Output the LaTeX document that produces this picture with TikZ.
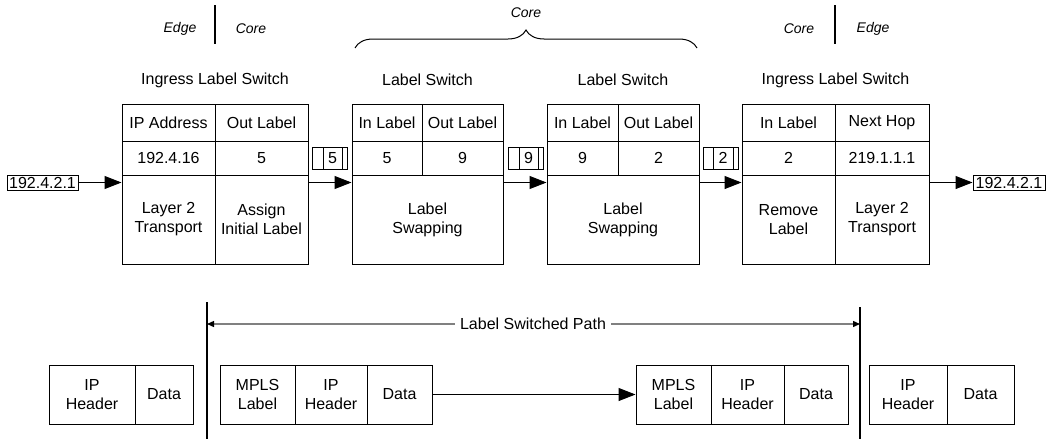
\documentclass[tikz,border=0pt]{standalone}
\usepackage{fontspec}
\setmainfont{Liberation Sans}
\usetikzlibrary{arrows.meta,decorations.pathreplacing}

\begin{document}
\begin{tikzpicture}[x=1pt,y=-1pt,cell/.style={draw,line width=1pt,inner sep=0pt,align=center,font=\fontsize{16}{19}\selectfont},tag/.style={draw,line width=1pt,inner sep=0pt,minimum height=22,font=\fontsize{16}{19}\selectfont},zone/.style={font=\fontsize{14}{16}\selectfont\itshape},title/.style={font=\fontsize{16}{19}\selectfont},flow/.style={line width=1pt,-{Triangle[length=17pt,width=13pt]}},lsp/.style={line width=1.3pt,gray,-{Triangle[length=7pt,width=6pt,black]}},divider/.style={line width=1.4pt}]
\useasboundingbox (0,0) rectangle (1051,439);
% edge / core marks
\coordinate (m1a) at (215,5);
\coordinate (m1b) at (215,44);
\coordinate (m2a) at (835,5);
\coordinate (m2b) at (835,44);
\draw[divider] (m1a) -- (m1b);
\draw[divider] (m2a) -- (m2b);
\node[zone] (e1) at (180,29) {Edge};
\node[zone] (c1) at (251,29) {Core};
\node[zone] (c2) at (799,29) {Core};
\node[zone] (e2) at (873,29) {Edge};
\coordinate (bl) at (355,48);
\coordinate (br) at (697,48);
\draw[line width=1pt,decorate,decoration={brace,amplitude=18pt}] (bl) -- (br);
\node[zone] (c3) at (526,13) {Core};
% ingress label switch
\node[title] (t1) at (215,80) {Ingress Label Switch};
\node[cell,minimum width=93,minimum height=37] (s1a) at (168.5,122.5) {IP Address};
\node[cell,minimum width=93,minimum height=37] (s1b) at (261.5,122.5) {Out Label};
\node[cell,minimum width=93,minimum height=34] (s1c) at (168.5,158) {192.4.16};
\node[cell,minimum width=93,minimum height=34] (s1d) at (261.5,158) {5};
\node[cell,minimum width=93,minimum height=89] (s1e) at (168.5,219.5) {Layer 2\\Transport};
\node[cell,minimum width=93,minimum height=89] (s1f) at (261.5,219.5) {Assign\\Initial Label};
% label switch
\node[title] (t2) at (427.5,80) {Label Switch};
\node[cell,minimum width=70,minimum height=37] (s2a) at (387,122.5) {In Label};
\node[cell,minimum width=81,minimum height=37] (s2b) at (462.5,122.5) {Out Label};
\node[cell,minimum width=70,minimum height=34] (s2c) at (387,158) {5};
\node[cell,minimum width=81,minimum height=34] (s2d) at (462.5,158) {9};
\node[cell,minimum width=151,minimum height=89] (s2e) at (427.5,219.5) {Label\\Swapping};
% label switch
\node[title] (t3) at (623,80) {Label Switch};
\node[cell,minimum width=71,minimum height=37] (s3a) at (582.5,122.5) {In Label};
\node[cell,minimum width=81,minimum height=37] (s3b) at (658.5,122.5) {Out Label};
\node[cell,minimum width=71,minimum height=34] (s3c) at (582.5,158) {9};
\node[cell,minimum width=81,minimum height=34] (s3d) at (658.5,158) {2};
\node[cell,minimum width=152,minimum height=89] (s3e) at (623,219.5) {Label\\Swapping};
% egress side
\node[title] (t4) at (835.5,80) {Ingress Label Switch};
\node[cell,minimum width=93,minimum height=37] (s4a) at (788.5,122.5) {In Label};
\node[cell,minimum width=94,minimum height=37] (s4b) at (882,122.5) {Next Hop};
\node[cell,minimum width=93,minimum height=34] (s4c) at (788.5,158) {2};
\node[cell,minimum width=94,minimum height=34] (s4d) at (882,158) {219.1.1.1};
\node[cell,minimum width=93,minimum height=89] (s4e) at (788.5,219.5) {Remove\\Label};
\node[cell,minimum width=94,minimum height=89] (s4f) at (882,219.5) {Layer 2\\Transport};
% labelled packets
\node[tag,minimum width=11] (p1a) at (317.5,158) {};
\node[tag,minimum width=19] (p1b) at (332.5,158) {5};
\node[tag,minimum width=5] (p1c) at (344.5,158) {};
\node[tag,minimum width=11] (p2a) at (513.5,158) {};
\node[tag,minimum width=19] (p2b) at (528.5,158) {9};
\node[tag,minimum width=5] (p2c) at (540.5,158) {};
\node[tag,minimum width=10] (p3a) at (708,158) {};
\node[tag,minimum width=20] (p3b) at (723,158) {2};
\node[tag,minimum width=5] (p3c) at (735.5,158) {};
% addresses
\node[cell,minimum width=71,minimum height=15] (ipin) at (42.5,182.5) {192.4.2.1};
\node[cell,minimum width=72,minimum height=15] (ipout) at (1009,182.5) {192.4.2.1};
\draw[flow] (ipin.east) -- (ipin.east -| s1e.west);
\draw[flow] (ipin.east -| s1f.east) -- (ipin.east -| s2e.west);
\draw[flow] (ipin.east -| s2e.east) -- (ipin.east -| s3e.west);
\draw[flow] (ipin.east -| s3e.east) -- (ipin.east -| s4e.west);
\draw[flow] (ipin.east -| s4f.east) -- (ipout.west);
% label switched path
\coordinate (v1a) at (207,302);
\coordinate (v1b) at (207,439);
\coordinate (v2a) at (860,307);
\coordinate (v2b) at (860,439);
\draw[divider] (v1a) -- (v1b);
\draw[divider] (v2a) -- (v2b);
\node[title,inner sep=5pt] (path) at (533,324) {Label Switched Path};
\draw[lsp] (path.west) -- (path.west -| v1a);
\draw[lsp] (path.east) -- (path.east -| v2a);
% packets
\node[cell,minimum width=86,minimum height=59] (k1a) at (92,394.5) {IP\\Header};
\node[cell,minimum width=58,minimum height=59] (k1b) at (164,394.5) {Data};
\node[cell,minimum width=75,minimum height=59] (k2a) at (257.5,394.5) {MPLS\\Label};
\node[cell,minimum width=72,minimum height=59] (k2b) at (331,394.5) {IP\\Header};
\node[cell,minimum width=65,minimum height=59] (k2c) at (399.5,394.5) {Data};
\node[cell,minimum width=75,minimum height=59] (k3a) at (673.5,394.5) {MPLS\\Label};
\node[cell,minimum width=73,minimum height=59] (k3b) at (747.5,394.5) {IP\\Header};
\node[cell,minimum width=64,minimum height=59] (k3c) at (816,394.5) {Data};
\node[cell,minimum width=78,minimum height=59] (k4a) at (908,394.5) {IP\\Header};
\node[cell,minimum width=67,minimum height=59] (k4b) at (980.5,394.5) {Data};
\draw[flow] (k2c.east) -- (k3a.west);
\end{tikzpicture}
\end{document}
